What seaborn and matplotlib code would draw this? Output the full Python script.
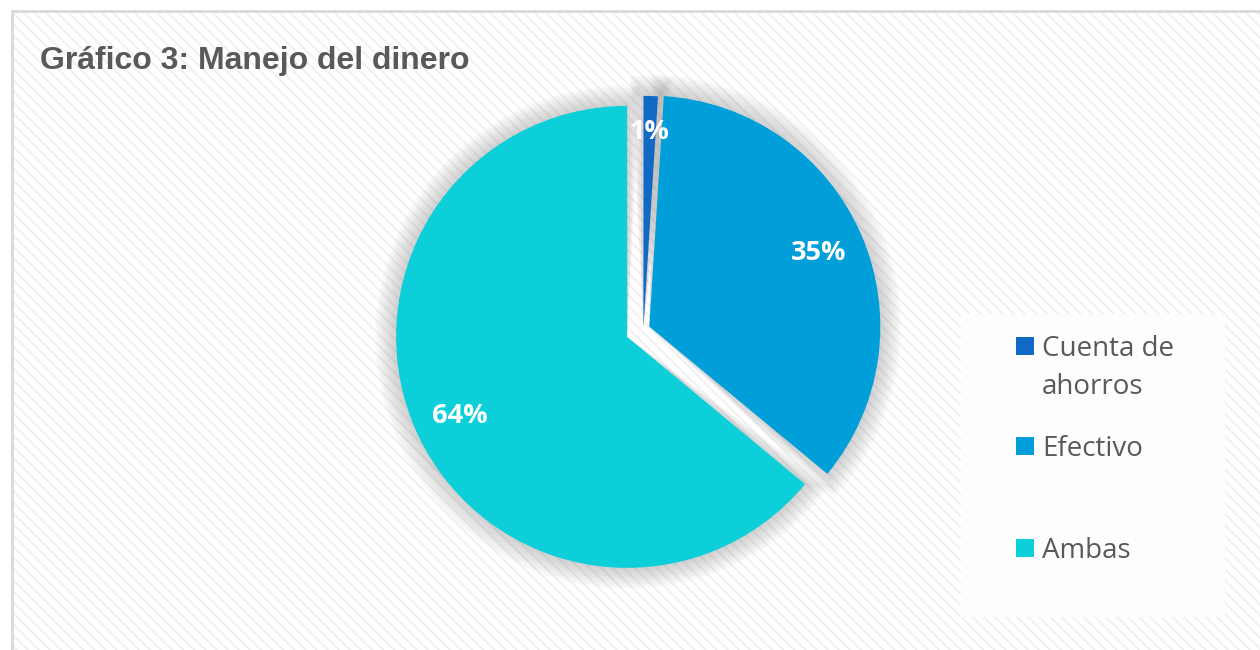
import matplotlib
matplotlib.use("Agg")
import numpy as np
import matplotlib.pyplot as plt
import matplotlib.patches as mpatches
import seaborn as sns

# ---- data ----
categories = ["Cuenta de ahorros", "Efectivo", "Ambas"]
legend_labels = ["Cuenta de\nahorros", "Efectivo", "Ambas"]
values = [1, 35, 64]
colors = ["#1169C6", "#009FD9", "#0CCFDA"]
title = "Gráfico 3: Manejo del dinero"

sns.set_theme(style="white")
plt.rcParams["font.family"] = ["Open Sans", "DejaVu Sans"]
plt.rcParams["hatch.linewidth"] = 1.4
plt.rcParams["hatch.color"] = "#F0F0F0"

W, H = 1260, 650
fig = plt.figure(figsize=(W / 100, H / 100), dpi=100, facecolor="white")

# background hatched panel
bg = mpatches.Rectangle((12 / W, 0), 1 - 12 / W, (H - 11) / H, transform=fig.transFigure,
                        facecolor="white", edgecolor="#F0F0F0", hatch="\\\\\\",
                        linewidth=0, zorder=-10)
fig.patches.append(bg)
fig.add_artist(plt.Line2D([12 / W, 12 / W], [0, (H - 11) / H], color="#D9D9D9", lw=2,
                          transform=fig.transFigure, zorder=-5))
fig.add_artist(plt.Line2D([12 / W, 1], [(H - 11) / H, (H - 11) / H], color="#D9D9D9", lw=2,
                          transform=fig.transFigure, zorder=-5))

# pie axes
cx, cy, r = 643.4, H - 329.2, 231
half = 1.2 * r
ax = fig.add_axes([(cx - half) / W, (cy - half) / H, 2 * half / W, 2 * half / H])
ax.set_zorder(5)
ax.patch.set_alpha(0)

wedges, texts, autotexts = ax.pie(
    values, colors=colors, startangle=90, counterclock=False,
    explode=[0.01, 0.028, 0.078], autopct="%1.0f%%", pctdistance=0.80,
    textprops=dict(color="white", fontsize=19.5, fontweight="bold"),
    wedgeprops=dict(linewidth=0),
)
# soft shadow behind each wedge
for w in wedges:
    for k in range(1, 10):
        sh = mpatches.Wedge(w.center, w.r + 0.010 * k, w.theta1 - 0.35 * k, w.theta2 + 0.35 * k,
                            facecolor="#7A7A7A", alpha=0.04, linewidth=0, zorder=0.5)
        ax.add_patch(sh)
for w in wedges:
    w.set_zorder(2)
for t in autotexts:
    t.set_zorder(3)
# the tiny slice's label sits a little further out, as in the reference
w0 = wedges[0]
mid = np.deg2rad((w0.theta1 + w0.theta2) / 2)
autotexts[0].set_position((w0.center[0] + 0.845 * np.cos(mid), w0.center[1] + 0.845 * np.sin(mid)))

ax.set_xlim(-1.2, 1.2)
ax.set_ylim(-1.2, 1.2)
ax.set_aspect("equal")
ax.axis("off")

# title
fig.text(40 / W, 1 - 61 / H, title, fontsize=23, fontweight="bold", color="#595959",
         family=["Liberation Sans", "DejaVu Sans"], va="center", ha="left", zorder=6)

# legend box (manual placement to match uneven spacing)
lx0, ly0, lx1, ly1 = 961, 314, 1225, 617
fig.patches.append(mpatches.Rectangle((lx0 / W, 1 - ly1 / H), (lx1 - lx0) / W, (ly1 - ly0) / H,
                                      transform=fig.transFigure, facecolor="#FDFDFD",
                                      edgecolor="none", zorder=1))
entry_y = [346, 446, 548]
for lab, col, yy in zip(legend_labels, colors, entry_y):
    fig.patches.append(mpatches.Rectangle((1016 / W, 1 - (yy + 9) / H), 18 / W, 18 / H,
                                          transform=fig.transFigure, facecolor=col,
                                          edgecolor="none", zorder=2))
    fig.text(1042 / W, 1 - (yy - 11) / H, lab, fontsize=20, color="#595959", va="top",
             ha="left", linespacing=1.5, zorder=3)

fig.savefig("out.png", dpi=100, facecolor="white")
